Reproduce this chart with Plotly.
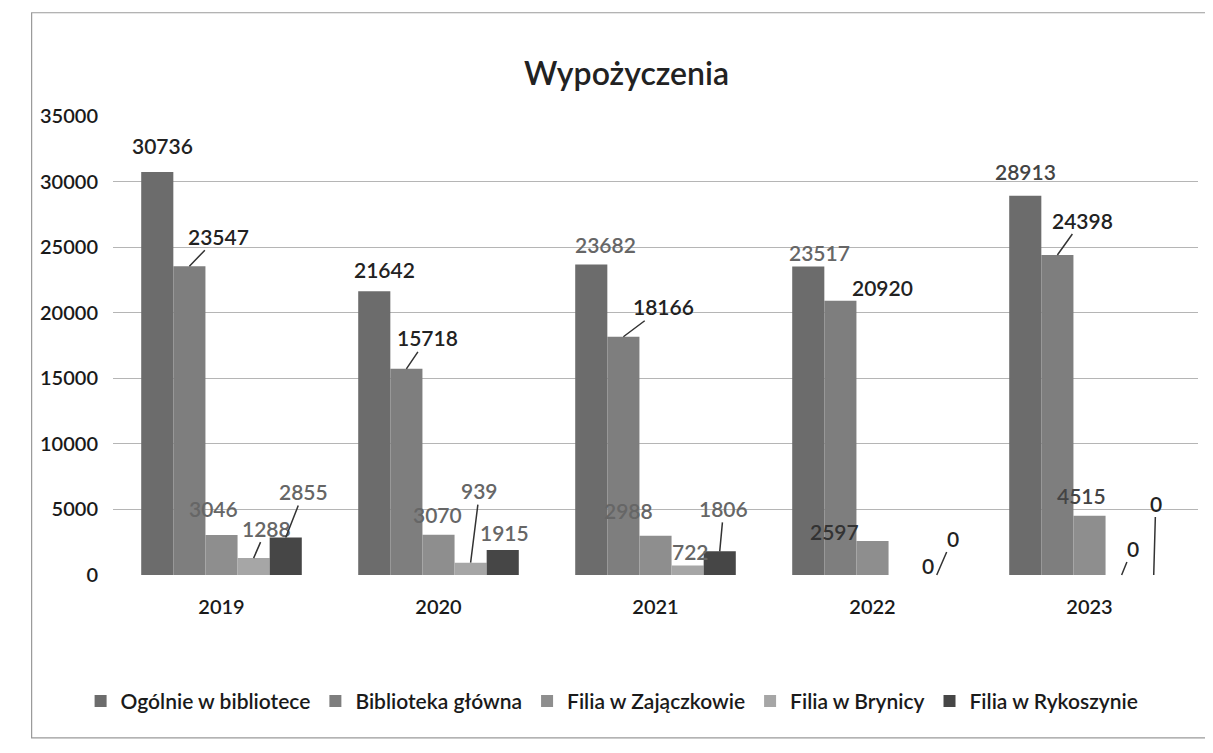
import plotly.graph_objects as go

# ---- data ----
years = ["2019", "2020", "2021", "2022", "2023"]
series_names = ["Ogólnie w bibliotece", "Biblioteka główna", "Filia w Zajączkowie",
                "Filia w Brynicy", "Filia w Rykoszynie"]
ogolnie = [30736, 21642, 23682, 23517, 28913]
glowna = [23547, 15718, 18166, 20920, 24398]
zajaczkowo = [3046, 3070, 2988, 2597, 4515]
brynica = [1288, 939, 722, 0, 0]
rykoszyn = [2855, 1915, 1806, 0, 0]
y_ticks = [0, 5000, 10000, 15000, 20000, 25000, 30000, 35000]
y_tick_text = ["0", "5000", "10000", "15000", "20000", "25000", "30000", "35000"]

# ---- style ----
colors = ["#6c6c6c", "#7e7e7e", "#8e8e8e", "#a6a6a6", "#464646"]
FONT = "Lato"
bargap = 0.26
nser = 5
bw = (1 - bargap) / nser

# label offsets in pixels (dx, dy) from bar top, leader flag, label colour
label_style = [
    [(5, -26, 0, "#222"), (10, -22, 0, "#222"), (14, -20, 0, "#666"), (11, -14, 0, "#666"), (0, -24, 0, "#444")],
    [(29, -30, 1, "#222"), (21, -31, 1, "#222"), (40, -30, 1, "#222"), (42, -13, 0, "#222"), (25, -35, 1, "#222")],
    [(-8, -27, 0, "#666"), (-1, -20, 0, "#666"), (-27, -25, 0, "#666"), (-38, -9, 0, "#333"), (-8, -20, 0, "#444")],
    [(13, -30, 1, "#666"), (9, -72, 1, "#666"), (3, -14, 0, "#666"), (23, -10, 0, "#222"), (11, -27, 1, "#222")],
    [(18, -46, 1, "#666"), (2, -17, 0, "#666"), (4, -43, 1, "#666"), (16, -37, 1, "#222"), (2, -72, 1, "#222")],
]

all_series = [ogolnie, glowna, zajaczkowo, brynica, rykoszyn]
xs = list(range(len(years)))

fig = go.Figure()
for k, (name, vals) in enumerate(zip(series_names, all_series)):
    fig.add_trace(go.Bar(x=xs, y=vals, name=name, marker_color=colors[k],
                         marker_line_width=0))

annotations = []
for k, vals in enumerate(all_series):
    for i, v in enumerate(vals):
        dx, dy, leader, col = label_style[k][i]
        xc = i + (k - (nser - 1) / 2) * bw
        lf = dict(family=FONT, size=21, color=col, weight=600)
        if leader:
            annotations.append(dict(x=xc, y=v, xref="x", yref="y", text=str(v),
                                    showarrow=True, arrowhead=0, arrowwidth=1.5,
                                    arrowcolor="#333", ax=dx, ay=dy, font=lf))
        else:
            annotations.append(dict(x=xc, y=v, xref="x", yref="y", text=str(v),
                                    showarrow=False, xshift=dx, yshift=-dy, font=lf))

annotations.append(dict(x=0.473, y=1.0, xref="paper", yref="paper",
                        text="Wypożyczenia", showarrow=False, yshift=65,
                        font=dict(family=FONT, size=32, color="#222", weight=600)))

fig.update_layout(
    width=1213, height=753,
    margin=dict(l=105, r=23, t=108, b=186),
    paper_bgcolor="white", plot_bgcolor="white",
    barmode="group", bargap=bargap, bargroupgap=0,
    showlegend=True,
    legend=dict(orientation="h", x=0.46, y=-0.275, xanchor="center", yanchor="middle",
                font=dict(family=FONT, size=21, color="#1a1a1a", weight=600),
                itemwidth=30, tracegroupgap=0),
    annotations=annotations,
    font=dict(family=FONT, color="#1a1a1a"),
    shapes=[dict(type="rect", xref="paper", yref="paper",
                 x0=-0.075, x1=1.017, y0=-0.355, y1=1.225,
                 line=dict(color="#9a9a9a", width=1.2))],
)
fig.update_xaxes(range=[-0.5, 4.5], tickvals=xs, ticktext=years, showgrid=False,
                 showline=False, zeroline=False, ticks="",
                 tickfont=dict(family=FONT, size=20, color="#1a1a1a", weight=600),
                 ticklabelstandoff=18)
fig.update_yaxes(range=[0, 35000], tickvals=y_ticks, ticktext=y_tick_text,
                 showgrid=True, gridcolor="#b5b5b5", gridwidth=1, zeroline=False,
                 showline=False,
                 tickfont=dict(family=FONT, size=20, color="#1a1a1a", weight=600),
                 ticklabelstandoff=14)

fig.write_html("out.html")
